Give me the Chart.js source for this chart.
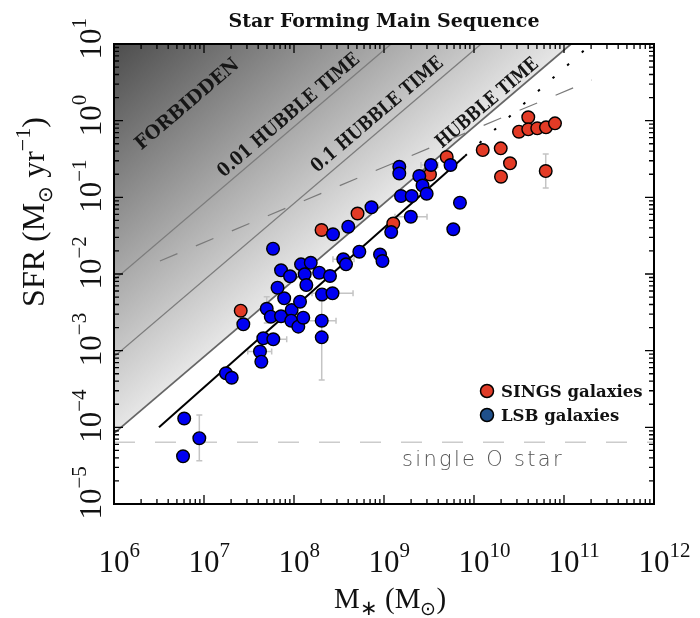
<!DOCTYPE html>
<html>
<head>
<meta charset="utf-8">
<script src="https://cdn.jsdelivr.net/npm/chart.js@4.4.0/dist/chart.umd.min.js"></script>
<style>
  body { margin: 0; background: #fff; }
  #wrap { width: 700px; height: 618px; }
</style>
</head>
<body>
<div id="wrap"><canvas id="myChart" width="700" height="618"></canvas></div>
<script>
// values, as log10(M*/Msun) and log10(SFR)
const lsbLogMass = [6.78, 6.948, 6.767, 7.244, 7.308, 7.622, 7.637, 7.659, 7.77, 7.437,
  7.697, 7.742, 7.856, 7.974, 7.969, 8.048, 8.103, 8.067, 7.891, 7.817,
  7.856, 7.956, 8.078, 8.186, 8.119, 8.137, 8.28, 8.4, 8.311, 8.428,
  8.308, 8.308, 8.548, 8.578, 8.726, 8.956, 8.983, 9.08, 7.767, 8.433,
  8.603, 8.861, 9.17, 9.17, 9.189, 9.308, 9.298, 9.392, 9.522, 9.739,
  9.428, 9.474, 9.844, 9.77];
const lsbLogSfr = [-3.885, -4.142, -4.378, -3.295, -3.353, -3.011, -3.144, -2.839, -2.852, -2.656,
  -2.453, -2.557, -2.552, -2.47, -2.609, -2.687, -2.57, -2.361, -2.317, -2.179,
  -1.952, -2.03, -1.874, -1.854, -2.004, -2.144, -1.983, -2.026, -2.267, -2.252,
  -2.609, -2.826, -1.808, -1.874, -1.709, -1.746, -1.831, -1.452, -1.67, -1.482,
  -1.383, -1.13, -0.601, -0.689, -0.983, -0.983, -1.253, -0.722, -0.578, -0.578,
  -0.846, -0.953, -1.07, -1.416];

const singsLogMass = [7.408, 8.306, 8.706, 9.103, 9.511, 9.697, 10.097, 10.297, 10.4, 10.3,
  10.797, 10.603, 10.5, 10.603, 10.703, 10.8, 10.9];
const singsLogSfr = [-2.479, -1.426, -1.211, -1.341, -0.702, -0.474, -0.383, -0.361, -0.556, -0.731,
  -0.657, 0.044, -0.144, -0.113, -0.1, -0.087, -0.035];

// error bars (log10): which point, which axis, low, high
const lsbErrIndex = [1, 5, 8, 10, 29, 30, 31, 32, 46, 48];
const lsbErrAxis = ["y", "x", "x", "y", "x", "x", "y", "x", "x", "x"];
const lsbErrLow = [-4.435, 7.486, 7.622, -2.639, 8.2, 8.144, -3.383, 8.433, 9.122, 9.411];
const lsbErrHigh = [-3.839, 7.752, 7.919, -2.296, 8.656, 8.467, -2.352, 8.667, 9.478, 9.6];
const singsErrIndex = [10];
const singsErrAxis = ["y"];
const singsErrLow = [-0.878];
const singsErrHigh = [-0.435];

// reference lines
const hubbleTime = 1.2e10; // yr
const hubbleFractions = [0.01, 0.1, 1];
const fitLogMass = [6.5, 9.9];
const fitLogSfr = [-4.0, -0.46];
const fitExtLogMass = [9.9, 11.22];
const fitExtLogSfr = [-0.46, 0.913];
const trendLogMass = [6.51, 11.31];
const trendLogSfr = [-1.83, 0.53];
const oStarSfr = 6.4e-5;

const xTickExp = [6, 7, 8, 9, 10, 11, 12];
const yTickExp = [-5, -4, -3, -2, -1, 0, 1];

const regionLabels = ["FORBIDDEN", "0.01 HUBBLE TIME", "0.1 HUBBLE TIME", "HUBBLE TIME"];
const regionLabelLogMass = [6.817, 7.944, 8.928, 10.15];
const regionLabelLogSfr = [0.211, 0.067, 0.074, 0.224];

const pow10 = (v) => Math.pow(10, v);
const toPoints = (xs, ys) => xs.map((x, i) => ({ x: pow10(x), y: pow10(ys[i]) }));

const serif = "'Liberation Serif', serif";
const boldSerif = "'DejaVu Serif', serif";

// draw a row of text pieces [text, size, rise]; the first piece is centred at 0
function richText(ctx, parts, x, y, angle, family, anchorFirst) {
  let widths = parts.map((p) => {
    ctx.font = p[1] + "px " + family;
    return ctx.measureText(p[0]).width;
  });
  let total = widths.reduce((a, b) => a + b, 0);
  ctx.save();
  ctx.translate(x, y);
  ctx.rotate(angle);
  ctx.textBaseline = "alphabetic";
  ctx.textAlign = "left";
  let cx = anchorFirst ? -widths[0] / 2 : -total / 2;
  parts.forEach((p, i) => {
    ctx.font = p[1] + "px " + family;
    ctx.fillText(p[0], cx, -p[2]);
    cx += widths[i];
  });
  ctx.restore();
}

const backdrop = {
  id: "backdrop",
  beforeDatasetsDraw(chart) {
    const { ctx, chartArea: a, scales: { x, y } } = chart;
    const x1 = x.getPixelForValue(1e6);
    const y1 = y.getPixelForValue(1e6 / hubbleTime);
    const x2 = x.getPixelForValue(10 * hubbleTime);
    const y2 = y.getPixelForValue(10);
    let dx = x2 - x1, dy = y2 - y1;
    const len = Math.hypot(dx, dy);
    dx /= len; dy /= len;
    const t = (a.left - x1) * dx + (a.top - y1) * dy;
    const fx = x1 + dx * t, fy = y1 + dy * t;

    ctx.save();
    const grad = ctx.createLinearGradient(fx, fy, a.left, a.top);
    grad.addColorStop(0, "#e6e6e6");
    grad.addColorStop(1, "#4d4d4d");
    ctx.fillStyle = grad;
    ctx.beginPath();
    ctx.moveTo(x1, y1);
    ctx.lineTo(x2, y2);
    ctx.lineTo(a.left, a.top);
    ctx.closePath();
    ctx.fill();

    // error bars
    ctx.strokeStyle = "#c4c4c4";
    ctx.lineWidth = 1.5;
    const bars = (idx, axis, lo, hi, mass, sfr) => {
      idx.forEach((p, i) => {
        const px = x.getPixelForValue(pow10(mass[p]));
        const py = y.getPixelForValue(pow10(sfr[p]));
        ctx.beginPath();
        if (axis[i] === "y") {
          const ya = y.getPixelForValue(pow10(lo[i])), yb = y.getPixelForValue(pow10(hi[i]));
          ctx.moveTo(px, ya); ctx.lineTo(px, yb);
          ctx.moveTo(px - 3, ya); ctx.lineTo(px + 3, ya);
          ctx.moveTo(px - 3, yb); ctx.lineTo(px + 3, yb);
        } else {
          const xa = x.getPixelForValue(pow10(lo[i])), xb = x.getPixelForValue(pow10(hi[i]));
          ctx.moveTo(xa, py); ctx.lineTo(xb, py);
          ctx.moveTo(xa, py - 3); ctx.lineTo(xa, py + 3);
          ctx.moveTo(xb, py - 3); ctx.lineTo(xb, py + 3);
        }
        ctx.stroke();
      });
    };
    bars(lsbErrIndex, lsbErrAxis, lsbErrLow, lsbErrHigh, lsbLogMass, lsbLogSfr);
    bars(singsErrIndex, singsErrAxis, singsErrLow, singsErrHigh, singsLogMass, singsLogSfr);
    ctx.restore();
  },
};

const frame = {
  id: "frame",
  afterDraw(chart) {
    const { ctx, chartArea: a, scales: { x, y } } = chart;
    ctx.save();

    // region labels along the lines, squeezed to the length seen in the original
    const angle = -Math.atan2(
      y.getPixelForValue(1e-5) - y.getPixelForValue(1e-4),
      x.getPixelForValue(1e7) - x.getPixelForValue(1e6)
    );
    const lengths = [130, 180, 167, 128];
    ctx.fillStyle = "#161616";
    regionLabels.forEach((txt, i) => {
      const px = x.getPixelForValue(pow10(regionLabelLogMass[i]));
      const py = y.getPixelForValue(pow10(regionLabelLogSfr[i]));
      ctx.save();
      ctx.font = "bold 19px " + boldSerif;
      const w = ctx.measureText(txt).width;
      ctx.translate(px, py);
      ctx.rotate(angle);
      ctx.scale(Math.min(1, lengths[i] / w), 1);
      ctx.textAlign = "center";
      ctx.textBaseline = "middle";
      ctx.fillText(txt, 0, 0);
      ctx.restore();
    });

    // single O star note
    ctx.fillStyle = "#555";
    ctx.font = "200 21px 'DejaVu Sans', sans-serif";
    ctx.textAlign = "left";
    ctx.textBaseline = "alphabetic";
    ctx.letterSpacing = "2.3px";
    ctx.fillText("single O star", 402, 466);
    ctx.letterSpacing = "0px";

    // frame
    ctx.strokeStyle = "#000";
    ctx.lineWidth = 2;
    ctx.strokeRect(a.left, a.top, a.right - a.left, a.bottom - a.top);

    // inward ticks
    ctx.lineWidth = 1.3;
    ctx.beginPath();
    for (let e = 6; e <= 12; e++) {
      for (let m = 1; m <= 9; m++) {
        if (e === 12 && m > 1) break;
        const px = x.getPixelForValue(m * pow10(e));
        const l = m === 1 ? 9 : 5;
        ctx.moveTo(px, a.bottom); ctx.lineTo(px, a.bottom - l);
        ctx.moveTo(px, a.top); ctx.lineTo(px, a.top + l);
      }
    }
    for (let e = -5; e <= 1; e++) {
      for (let m = 1; m <= 9; m++) {
        if (e === 1 && m > 1) break;
        const py = y.getPixelForValue(m * pow10(e));
        const l = m === 1 ? 9 : 5;
        ctx.moveTo(a.left, py); ctx.lineTo(a.left + l, py);
        ctx.moveTo(a.right, py); ctx.lineTo(a.right - l, py);
      }
    }
    ctx.stroke();

    // tick labels
    ctx.fillStyle = "#111";
    xTickExp.forEach((e) => {
      richText(ctx, [["10", 31, 0], [String(e), 21, 15]], x.getPixelForValue(pow10(e)), 572, 0, serif, true);
    });
    yTickExp.forEach((e) => {
      const s = e < 0 ? "\u2212" + (-e) : String(e);
      richText(ctx, [["10", 31, 0], [s, 21, 15]], 101, y.getPixelForValue(pow10(e)), -Math.PI / 2, serif, true);
    });

    // axis titles
    richText(ctx, [["M", 29, 0], ["\u2217", 21, -7], [" (M", 29, 0], ["\u2299", 19, -7], [")", 29, 0]],
      390, 608, 0, serif, false);
    richText(ctx, [["SFR (M", 32, 0], ["\u2299", 20, -8], [" yr", 32, 0], ["\u22121", 22, 14], [")", 32, 0]],
      44, 212, -Math.PI / 2, serif, false);

    // title
    ctx.fillStyle = "#111";
    ctx.font = "bold 19px " + boldSerif;
    ctx.textAlign = "center";
    ctx.fillText("Star Forming Main Sequence", 384, 27);

    // legend
    const legend = [["SINGS galaxies", "#e03c28", 391], ["LSB galaxies", "#1f4f8a", 415]];
    legend.forEach((it) => {
      ctx.beginPath();
      ctx.arc(487, it[2], 6.5, 0, Math.PI * 2);
      ctx.fillStyle = it[1];
      ctx.fill();
      ctx.lineWidth = 1.5;
      ctx.strokeStyle = "#000";
      ctx.stroke();
      ctx.fillStyle = "#111";
      ctx.font = "bold 16.5px " + boldSerif;
      ctx.textAlign = "left";
      ctx.fillText(it[0], 501, it[2] + 6);
    });
    ctx.restore();
  },
};

const lineSet = (data, color, width, dash) => ({
  type: "line",
  data: data,
  showLine: true,
  borderColor: color,
  borderWidth: width,
  borderDash: dash,
  pointRadius: 0,
  fill: false,
  tension: 0,
});

const datasets = [
  {
    label: "LSB galaxies",
    data: toPoints(lsbLogMass, lsbLogSfr),
    backgroundColor: "#0000f2",
    borderColor: "#000",
    borderWidth: 1.4,
    pointRadius: 6.3,
  },
  {
    label: "SINGS galaxies",
    data: toPoints(singsLogMass, singsLogSfr),
    backgroundColor: "#e33b26",
    borderColor: "#000",
    borderWidth: 1.4,
    pointRadius: 6.3,
  },
  lineSet(toPoints(fitLogMass, fitLogSfr), "#000", 2, []),
  lineSet(toPoints(fitExtLogMass, fitExtLogSfr), "#000", 2, [2.5, 17]),
  lineSet(toPoints(trendLogMass, trendLogSfr), "#7a7a7a", 1.2, [19, 20]),
  lineSet([{ x: 1e6, y: oStarSfr }, { x: 1e12, y: oStarSfr }], "#cccccc", 1.6, [21, 20]),
];
hubbleFractions.forEach((f) => {
  datasets.push(lineSet(
    [{ x: 1e6, y: 1e6 / (f * hubbleTime) }, { x: 1e12, y: 1e12 / (f * hubbleTime) }],
    f === 1 ? "#666" : "#7c7c7c", f === 1 ? 1.8 : 1.3, []
  ));
});

new Chart(document.getElementById("myChart"), {
  type: "scatter",
  data: { datasets: datasets },
  options: {
    responsive: false,
    animation: false,
    events: [],
    layout: { padding: { left: 114, top: 44, right: 46, bottom: 114 } },
    plugins: { legend: { display: false }, tooltip: { enabled: false } },
    scales: {
      x: { type: "logarithmic", min: 1e6, max: 1e12, display: false },
      y: { type: "logarithmic", min: 1e-5, max: 10, display: false },
    },
  },
  plugins: [backdrop, frame],
});
</script>
</body>
</html>
